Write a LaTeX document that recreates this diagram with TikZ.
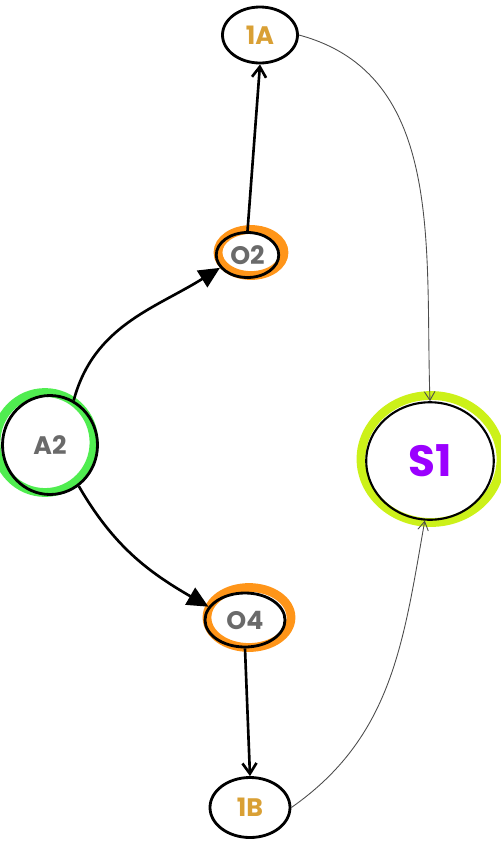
\documentclass[tikz,border=0pt]{standalone}
\usepackage{fontspec}
\setmainfont{Poppins}
\usetikzlibrary{shapes.geometric,arrows.meta}
\definecolor{txtgray}{HTML}{6A6A6A}
\definecolor{txtgold}{HTML}{D9A035}
\definecolor{txtpurple}{HTML}{9B00FF}
\definecolor{halogreen}{HTML}{3DEB3D}
\definecolor{haloorange}{HTML}{FF8A00}
\definecolor{halolime}{HTML}{C6F000}
\tikzset{
  blob/.style={ellipse,draw=black,line width=1.6pt,inner sep=0pt,font=\bfseries},
  halo/.style={line width=5pt,draw=#1,opacity=0.9},
  boldarrow/.style={line width=1.5pt,-{Triangle[length=12pt,width=11pt]}},
  openarrow/.style={line width=1.5pt,-{Straight Barb[length=6pt,width=8pt]}},
  thinarrow/.style={line width=0.5pt,draw=black!70,-{Straight Barb[length=5pt,width=6pt]}}
}
\begin{document}
\begin{tikzpicture}
\useasboundingbox (0,0) rectangle (10.02,-16.88);
% halos behind the circles
\draw[halo=haloorange] (5.02,-5.05) ellipse (0.66 and 0.46);
\draw[halo=halogreen] (0.9,-8.85) ellipse (0.98 and 1.0);
\draw[halo=halolime] (8.62,-9.18) ellipse (1.4 and 1.27);
\draw[halo=haloorange] (4.98,-12.35) ellipse (0.84 and 0.6);
% circles
\node[blob,minimum width=1.5cm,minimum height=1.12cm,text=txtgold,font=\bfseries\Large] (1a) at (5.2,-0.7) {1A};
\node[blob,minimum width=1.25cm,minimum height=0.9cm,text=txtgray,font=\bfseries\Large] (o2) at (4.95,-5.1) {O2};
\node[blob,minimum width=1.9cm,minimum height=1.98cm,text=txtgray,font=\bfseries\Large] (a2) at (1.0,-8.9) {A2};
\node[blob,minimum width=2.55cm,minimum height=2.35cm,line width=1.2pt,text=txtpurple,font=\bfseries\Huge] (s1) at (8.6,-9.22) {S1};
\node[blob,minimum width=1.6cm,minimum height=1.08cm,text=txtgray,font=\bfseries\Large] (o4) at (4.9,-12.4) {O4};
\node[blob,minimum width=1.6cm,minimum height=1.2cm,text=txtgold,font=\bfseries\Large] (1b) at (5.0,-16.15) {1B};
% connectors
\draw[boldarrow] (a2.62) to[out=75,in=212] (o2.205);
\draw[boldarrow] (a2.-55) to[out=-60,in=150] (o4.160);
\draw[openarrow] (o2.north) -- (1a.south);
\draw[openarrow] (o4.south) -- (1b.north);
\draw[thinarrow] (1a.east) to[out=-15,in=92] (s1.north);
\draw[thinarrow] (1b.east) to[out=35,in=-100] (s1.-95);
\end{tikzpicture}
\end{document}
